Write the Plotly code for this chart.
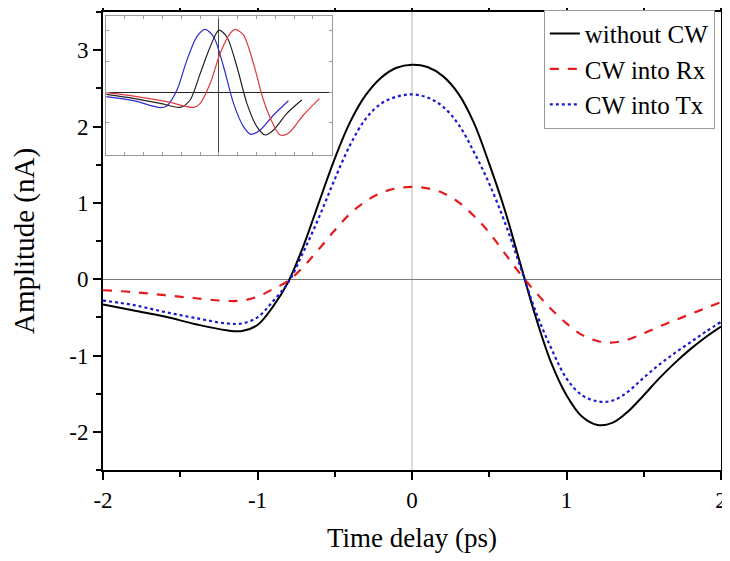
import plotly.graph_objects as go

# ---- main data ----
t = [-2.0, -1.8, -1.6, -1.4, -1.2, -1.1, -1.0, -0.9, -0.8, -0.7, -0.6, -0.5, -0.4, -0.3, -0.2, -0.1,
     0.0, 0.1, 0.2, 0.3, 0.4, 0.5, 0.6, 0.7, 0.8, 0.9, 1.0, 1.1, 1.2, 1.3, 1.4, 1.5, 1.6, 1.7, 1.8, 1.9, 2.0]

without_cw = [-0.33, -0.41, -0.49, -0.59, -0.67, -0.68, -0.60, -0.36, -0.03, 0.45, 1.02, 1.58, 2.06, 2.41,
              2.64, 2.77, 2.81, 2.78, 2.66, 2.43, 2.05, 1.51, 0.91, 0.21, -0.49, -1.09, -1.52, -1.80, -1.91,
              -1.88, -1.73, -1.52, -1.30, -1.10, -0.92, -0.76, -0.62]

cw_rx = [-0.145, -0.17, -0.21, -0.25, -0.285, -0.28, -0.23, -0.13, -0.02, 0.17, 0.40, 0.64, 0.86, 1.02,
         1.13, 1.19, 1.21, 1.19, 1.13, 1.01, 0.83, 0.61, 0.34, 0.07, -0.17, -0.39, -0.58, -0.73, -0.81,
         -0.83, -0.79, -0.71, -0.62, -0.54, -0.46, -0.38, -0.30]

cw_tx = [-0.28, -0.34, -0.43, -0.51, -0.58, -0.58, -0.50, -0.29, -0.04, 0.37, 0.82, 1.31, 1.76, 2.10,
         2.30, 2.39, 2.42, 2.38, 2.26, 2.03, 1.67, 1.25, 0.75, 0.17, -0.42, -0.90, -1.30, -1.52, -1.60,
         -1.59, -1.47, -1.29, -1.12, -0.97, -0.83, -0.69, -0.56]

# ---- inset data (arbitrary units) ----
ins_black_x = [-5.99, -4.54, -3.12, -2.06, -1.53, -0.99, -0.46, 0.0, 0.42, 0.96, 1.49, 2.02, 2.46, 2.91, 3.62, 4.41]
ins_black_y = [-0.075, -0.204, -0.366, -0.495, -0.258, 0.602, 1.462, 2.0, 1.785, 0.817, -0.366, -1.118, -1.387,
               -1.226, -0.688, -0.258]
ins_blue_x = [-5.99, -4.54, -3.12, -2.77, -2.23, -1.70, -1.17, -0.73, -0.28, 0.25, 0.78, 1.31, 1.70, 2.20, 2.91, 3.70]
ins_blue_y = [-0.15, -0.28, -0.505, -0.45, 0.065, 1.03, 1.785, 2.02, 1.785, 0.817, -0.366, -1.118, -1.365,
              -1.226, -0.742, -0.28]
ins_red_x = [-5.99, -4.54, -2.77, -1.35, -0.99, -0.46, 0.07, 0.60, 0.87, 1.31, 1.84, 2.37, 2.91, 3.26, 3.70, 4.50, 5.35]
ins_red_y = [-0.02, -0.13, -0.31, -0.495, -0.366, 0.28, 1.25, 1.89, 2.02, 1.84, 0.925, -0.258, -1.065, -1.387,
             -1.333, -0.742, -0.215]

x_ticks = [-2, -1, 0, 1, 2]
y_ticks = [-2, -1, 0, 1, 2, 3]

FONT = "Liberation Serif"

fig = go.Figure()
fig.add_trace(go.Scatter(x=t, y=without_cw, mode="lines", name="without CW",
                         line=dict(color="black", width=2, shape="spline", smoothing=1.0)))
fig.add_trace(go.Scatter(x=t, y=cw_rx, mode="lines", name="CW into Rx",
                         line=dict(color="#e41a1c", width=2.2, dash="dash", shape="spline", smoothing=1.0)))
fig.add_trace(go.Scatter(x=t, y=cw_tx, mode="lines", name="CW into Tx",
                         line=dict(color="#1a1acc", width=2.2, dash="dot", shape="spline", smoothing=1.0)))

for xs, ys, c in [(ins_blue_x, ins_blue_y, "#2b2bd0"), (ins_black_x, ins_black_y, "#222222"),
                  (ins_red_x, ins_red_y, "#e03a3a")]:
    fig.add_trace(go.Scatter(x=xs, y=ys, mode="lines", xaxis="x2", yaxis="y2", showlegend=False,
                             line=dict(color=c, width=1.2, shape="spline", smoothing=0.8)))

axis_common = dict(showline=True, linecolor="black", linewidth=2, mirror="ticks", ticks="outside",
                   tickcolor="black", tickwidth=1.5, ticklen=8, showgrid=False, automargin=False,
                   ticklabeloverflow="allow",
                   tickfont=dict(family=FONT, size=23, color="black"))

# page body has an 8px default margin, so the figure is sized to fit the 730x561 window
fig.update_layout(
    width=714, height=545,
    margin=dict(l=95, r=1, t=4, b=83),
    paper_bgcolor="white", plot_bgcolor="white",
    font=dict(family=FONT, color="black"),
    xaxis=dict(range=[-2, 2], tickvals=x_ticks, ticktext=[str(v) for v in x_ticks],
               zeroline=True, zerolinecolor="#dadada", zerolinewidth=1.5,
               minor=dict(ticks="outside", dtick=0.5, ticklen=5, tickcolor="black", tickwidth=1.5),
               title=dict(text="Time delay (ps)", font=dict(family=FONT, size=27), standoff=19),
               **axis_common),
    yaxis=dict(range=[-2.5, 3.5], tickvals=y_ticks, ticktext=[str(v) for v in y_ticks],
               zeroline=True, zerolinecolor="#7a7a7a", zerolinewidth=1,
               minor=dict(ticks="outside", dtick=0.5, ticklen=5, tickcolor="black", tickwidth=1.5),
               title=dict(text="Amplitude (nA)", font=dict(family=FONT, size=29), standoff=26),
               **axis_common),
    xaxis2=dict(domain=[0.005, 0.37], anchor="y2", range=[-6, 6], showline=True, linecolor="#999999",
                linewidth=1, mirror="ticks", ticks="inside", ticklen=3, tickcolor="#999999", dtick=1,
                showticklabels=False, showgrid=False, zeroline=True, zerolinecolor="#444444", zerolinewidth=1),
    yaxis2=dict(domain=[0.688, 0.991], anchor="x2", range=[-2.03, 2.45], showline=True, linecolor="#999999",
                linewidth=1, mirror="ticks", ticks="inside", ticklen=3, tickcolor="#999999", dtick=1,
                showticklabels=False, showgrid=False, zeroline=True, zerolinecolor="#222222", zerolinewidth=1),
    legend=dict(x=0.99, y=1.005, xanchor="right", yanchor="top", bgcolor="white",
                bordercolor="#999999", borderwidth=1, font=dict(family=FONT, size=25, color="black"),
                tracegroupgap=0),
    showlegend=True,
)

fig.write_html("out.html")
